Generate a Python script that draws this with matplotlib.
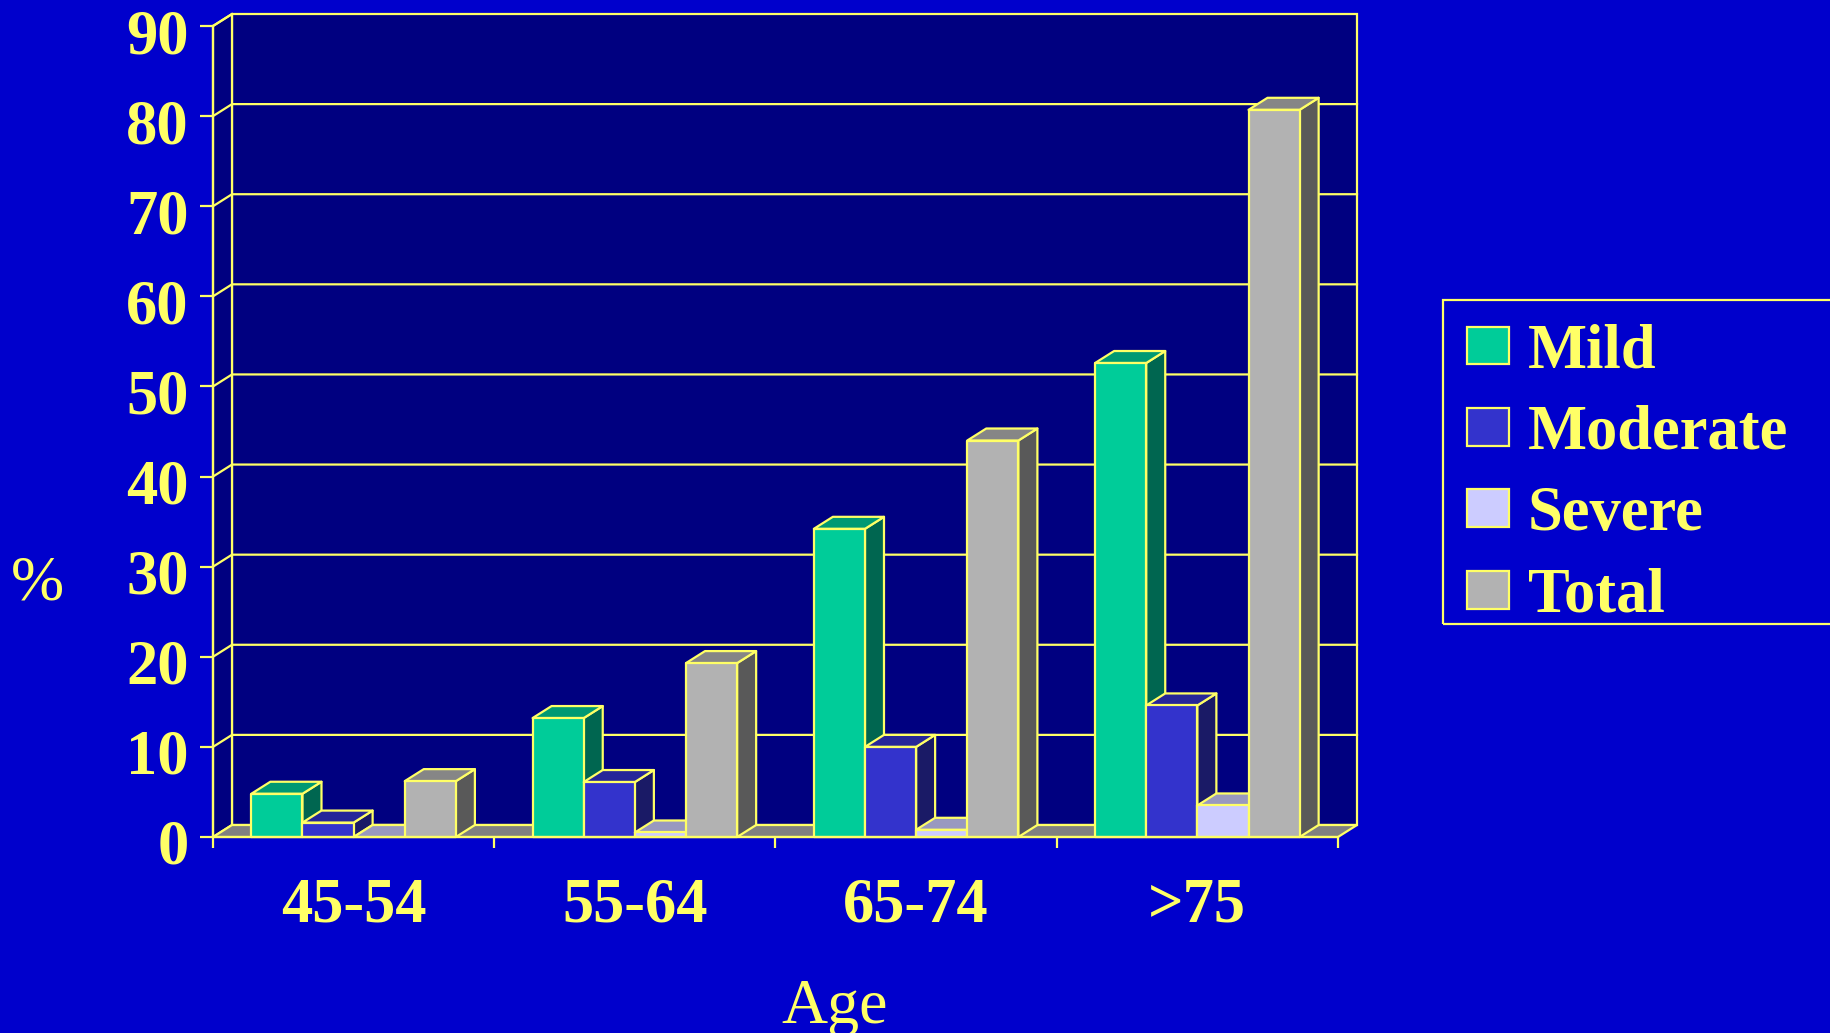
"""Gráfico de barras 3D (estilo PowerPoint) - prevalência por idade."""

import matplotlib
matplotlib.use("Agg")
import matplotlib.pyplot as plt
import matplotlib.transforms as mtransforms
from matplotlib.patches import Patch, Polygon, Rectangle


# ===========================
# Dados
# ===========================

faixas = ["45-54", "55-64", "65-74", ">75"]
series = ["Mild", "Moderate", "Severe", "Total"]

mild = [4.8, 13.2, 34.2, 52.6]
moderate = [1.6, 6.1, 10.0, 14.6]
severe = [0.0, 0.5, 0.8, 3.5]
total = [6.2, 19.3, 44.0, 80.7]

yticks = [0, 10, 20, 30, 40, 50, 60, 70, 80, 90]


# ===========================
# Estilo
# ===========================

FUNDO = "#0000CC"
PAREDE = "#000080"
CHAO = "#808080"
AMARELO = "#FFFF66"

# frente, topo, lateral
CORES = {
    "Mild": ("#00CC99", "#009973", "#006650"),
    "Moderate": ("#3333CC", "#262699", "#1A1A66"),
    "Severe": ("#CCCCFF", "#9999BF", "#666680"),
    "Total": ("#B2B2B2", "#868686", "#595959"),
}

FONTE = ["Liberation Serif", "DejaVu Serif"]
TAM = 45
LW = 1.6

# profundidade em unidades de dados
DX = 19 / 281.25
DY = 12 / 9.01

largura = 1 / 5.5  # gap width de 150%

W, H = 1831, 1033

fig = plt.figure(figsize=(W / 100, H / 100), dpi=100, facecolor=FUNDO)
ax = fig.add_axes([213 / W, 1 - 837 / H, 1125 / W, 811 / H])
ax.set_facecolor("none")
ax.set_xlim(0, 4)
ax.set_ylim(0, 90)


def poligono(pontos, cor, z=2):
    ax.add_patch(Polygon(pontos, closed=True, facecolor=cor, edgecolor=AMARELO,
                         linewidth=LW, joinstyle="round", clip_on=False, zorder=z))


# parede do fundo
ax.add_patch(Rectangle((DX, DY), 4, 90, facecolor=PAREDE, edgecolor=AMARELO,
                       linewidth=LW, clip_on=False, zorder=0))
# parede lateral
poligono([(0, 0), (0, 90), (DX, 90 + DY), (DX, DY)], PAREDE, z=0)

# linhas de grade
for v in yticks[1:-1]:
    ax.plot([0, DX, 4 + DX], [v, v + DY, v + DY], color=AMARELO, lw=LW,
            clip_on=False, zorder=1)
ax.plot([0, DX], [90, 90 + DY], color=AMARELO, lw=LW, clip_on=False, zorder=1)

# chão
poligono([(0, 0), (4, 0), (4 + DX, DY), (DX, DY)], CHAO, z=1)

# barras
valores = {"Mild": mild, "Moderate": moderate, "Severe": severe, "Total": total}
for i in range(len(faixas)):
    for j, nome in enumerate(series):
        v = valores[nome][i]
        frente, topo, lado = CORES[nome]
        x0 = i + 0.5 - 2 * largura + j * largura
        x1 = x0 + largura
        z = 3 + i * 4 + j
        poligono([(x1, 0), (x1, v), (x1 + DX, v + DY), (x1 + DX, DY)], lado, z)
        poligono([(x0, v), (x1, v), (x1 + DX, v + DY), (x0 + DX, v + DY)], topo, z)
        if v > 0:
            poligono([(x0, 0), (x1, 0), (x1, v), (x0, v)], frente, z)

# eixos
for lado in ["top", "right"]:
    ax.spines[lado].set_visible(False)
for lado in ["left", "bottom"]:
    ax.spines[lado].set_color(AMARELO)
    ax.spines[lado].set_linewidth(LW)
    ax.spines[lado].set_zorder(50)

ax.set_yticks(yticks)
ax.set_yticklabels([str(v) for v in yticks])
ax.tick_params(axis="y", colors=AMARELO, length=9.4, width=LW, pad=8,
               labelsize=TAM)

ax.set_xticks([0, 1, 2, 3, 4])
ax.set_xticklabels([])
ax.set_xticks([0.5, 1.5, 2.5, 3.5], minor=True)
ax.set_xticklabels(faixas, minor=True)
ax.tick_params(axis="x", which="major", colors=AMARELO, length=8, width=LW,
               direction="out")
ax.tick_params(axis="x", which="minor", colors=AMARELO, length=0, pad=29,
               labelsize=TAM)

desce = mtransforms.ScaledTranslation(0, -5 / 100, fig.dpi_scale_trans)
for rotulo in ax.get_yticklabels():
    rotulo.set_transform(rotulo.get_transform() + desce)
for rotulo in ax.get_yticklabels() + ax.get_xticklabels(minor=True):
    rotulo.set_family(FONTE)
    rotulo.set_fontweight("bold")

fig.text(37 / W, 1 - 600 / H, "%", color=AMARELO, fontsize=46,
         family=FONTE, ha="center", va="baseline")
fig.text(835 / W, 1 - 1023 / H, "Age", color=AMARELO, fontsize=46,
         family=FONTE, ha="center", va="baseline")

# legenda (moldura sai pela borda direita, como no original)
fig.patches.append(Rectangle((1443 / W, 1 - 624 / H), 420 / W, 324 / H,
                             transform=fig.transFigure, facecolor="none",
                             edgecolor=AMARELO, linewidth=LW, zorder=5))
handles = [Patch(facecolor=CORES[n][0], edgecolor=AMARELO, linewidth=LW)
           for n in series]
leg = fig.legend(handles, series, loc="upper left",
                 bbox_to_anchor=(1454 / W, 1 - 311 / H),
                 frameon=False,
                 prop={"family": FONTE, "weight": "bold", "size": TAM},
                 handlelength=0.68, handleheight=0.55, handletextpad=0.3,
                 labelspacing=0.375, borderpad=0.2, borderaxespad=0)
for t in leg.get_texts():
    t.set_color(AMARELO)

fig.savefig("out.png", dpi=100, facecolor=FUNDO)
